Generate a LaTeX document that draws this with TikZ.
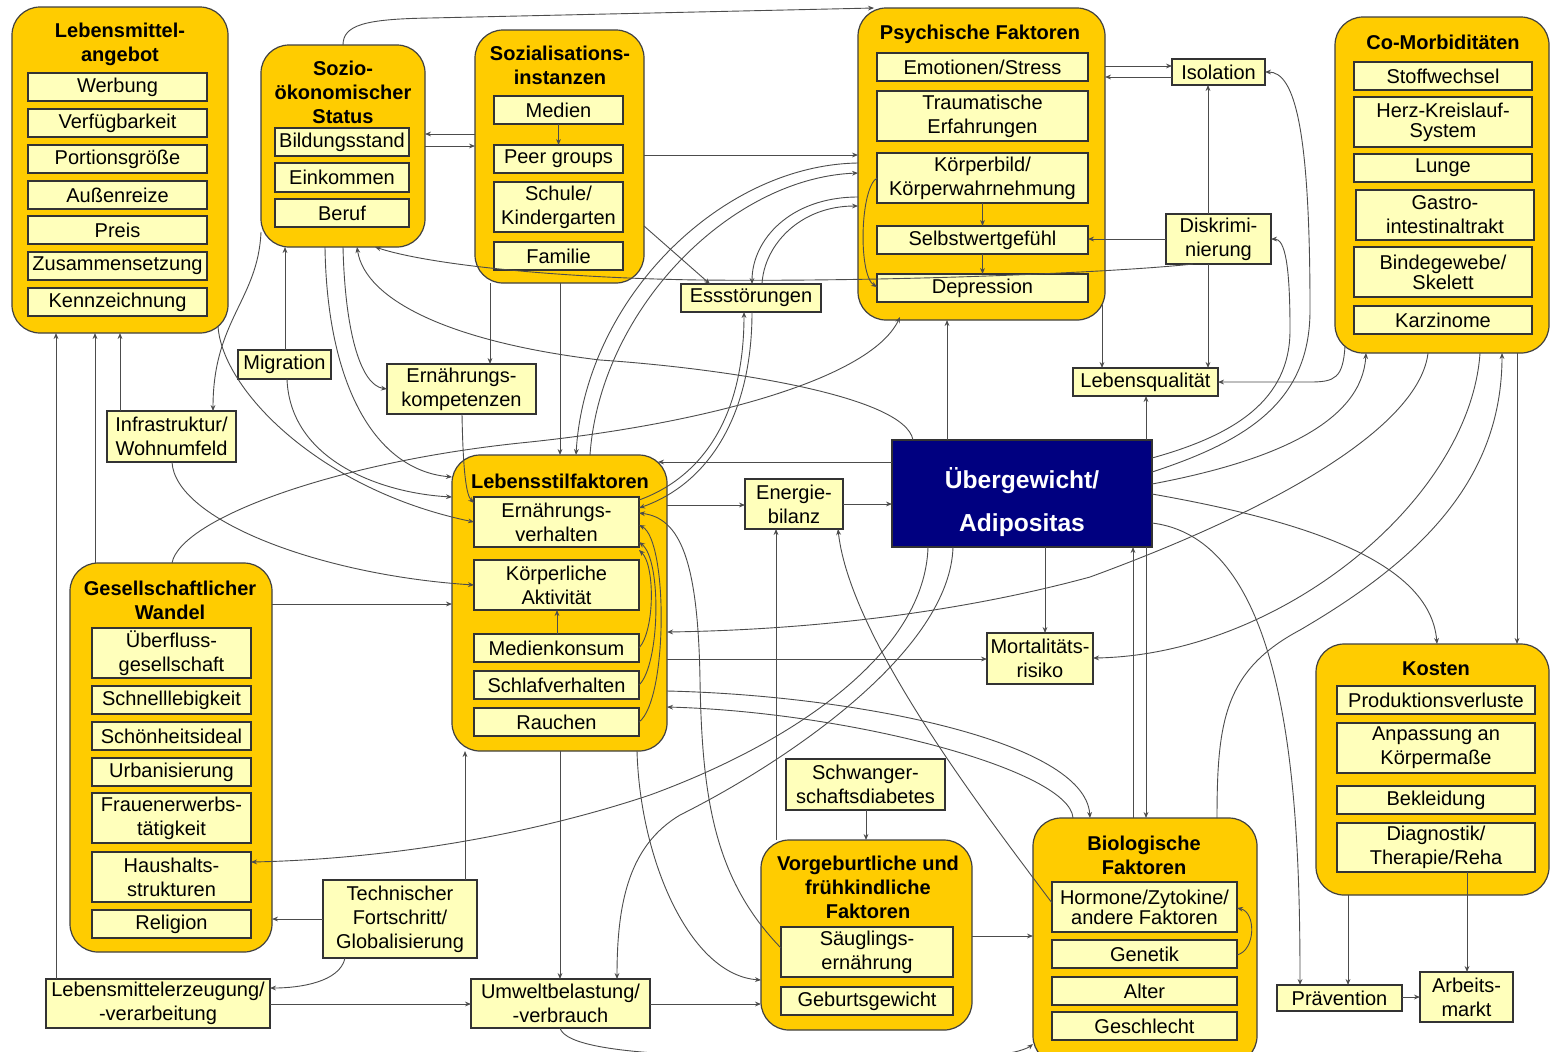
\documentclass[tikz,border=0pt]{standalone}
\usepackage{fontspec}
\setmainfont{Liberation Sans}
\usetikzlibrary{arrows.meta,calc}
\definecolor{grpc}{HTML}{FFCC00}
\definecolor{itmc}{HTML}{FFFFBB}
\definecolor{navyc}{HTML}{000080}
\newcommand\fnorm{\fontsize{10}{12}\selectfont}
\newcommand\mybox[7]{\node[#2,minimum width={(#5-#3)*0.5pt},minimum height={(#6-#4)*0.5pt}] (#1) at ({(#3+#5)/2},{(#4+#6)/2}) {#7};}
\tikzset{
 grp/.style={draw=black!75,fill=grpc,line width=0.6pt,rounded corners=14pt,inner sep=0pt,outer sep=0pt},
 itm/.style={draw=black!80,fill=itmc,line width=0.8pt,inner sep=0pt,outer sep=0pt,align=center,font=\fnorm},
 ttl/.style={align=center,font=\fnorm\bfseries,inner sep=0pt},
 big/.style={draw=black!80,fill=navyc,line width=0.6pt,inner sep=0pt,outer sep=0pt},
 bigtxt/.style={align=center,text=white,inner sep=0pt,font=\fontsize{12.3}{21.5}\selectfont\bfseries},
 con/.style={draw=black!70,line width=0.45pt},
 arr/.style={con,-{Stealth[length=3pt,width=2.4pt]}}
}
\begin{document}
\begin{tikzpicture}[x=0.5pt,y=-0.5pt]
\fill[white] (0,0) rectangle (1550,1051);
\useasboundingbox (0,0) rectangle (1550,1051);
% group boxes
\mybox{lma}{grp}{12}{7}{228}{333}{}
\mybox{ses}{grp}{261}{45}{425}{247}{}
\mybox{soz}{grp}{475}{30}{644}{283}{}
\mybox{psy}{grp}{858}{8}{1105}{320}{}
\mybox{com}{grp}{1335}{17}{1549}{353}{}
\mybox{lsf}{grp}{452}{455}{667}{751}{}
\mybox{gw}{grp}{70}{563}{272}{952}{}
\mybox{kost}{grp}{1316}{644}{1549}{895}{}
\mybox{vor}{grp}{761}{840}{972}{1030}{}
\mybox{bio}{grp}{1033}{818}{1257}{1064}{}
% titles
\node[ttl] (tlma) at (120,44) {Lebensmittel-\\angebot};
\node[ttl] (tses) at (343,92) {Sozio-\\ökonomischer\\Status};
\node[ttl] (tsoz) at (560,65) {Sozialisations-\\instanzen};
\node[ttl] (tpsy) at (980,34) {Psychische Faktoren};
\node[ttl] (tcom) at (1443,42) {Co-Morbiditäten};
\node[ttl] (tlsf) at (560,481) {Lebensstilfaktoren};
\node[ttl] (tgw) at (170,600) {Gesellschaftlicher\\Wandel};
\node[ttl] (tkost) at (1436,669) {Kosten};
\node[ttl] (tvor) at (868,887) {Vorgeburtliche und\\frühkindliche\\Faktoren};
\node[ttl] (tbio) at (1144,855) {Biologische\\Faktoren};
% items
\mybox{werb}{itm}{28}{73}{207}{101}{Werbung}
\mybox{verf}{itm}{28}{109}{207}{137}{Verfügbarkeit}
\mybox{port}{itm}{28}{145}{207}{173}{Portionsgröße}
\mybox{auss}{itm}{28}{181}{207}{209}{Außenreize}
\mybox{preis}{itm}{28}{216}{207}{244}{Preis}
\mybox{zus}{itm}{28}{252}{207}{280}{Zusammensetzung}
\mybox{kenn}{itm}{28}{288}{207}{316}{Kennzeichnung}
\mybox{bild}{itm}{275}{128}{409}{156}{Bildungsstand}
\mybox{eink}{itm}{275}{163}{409}{192}{Einkommen}
\mybox{beruf}{itm}{275}{199}{409}{227}{Beruf}
\mybox{medien}{itm}{494}{96}{623}{124}{Medien}
\mybox{peer}{itm}{494}{145}{623}{173}{Peer groups}
\mybox{schule}{itm}{494}{182}{623}{232}{Schule/\\Kindergarten}
\mybox{familie}{itm}{494}{242}{623}{270}{Familie}
\mybox{emo}{itm}{877}{53}{1088}{81}{Emotionen/Stress}
\mybox{trauma}{itm}{877}{91}{1088}{141}{Traumatische\\Erfahrungen}
\mybox{koerper}{itm}{877}{153}{1088}{203}{Körperbild/\\Körperwahrnehmung}
\mybox{selbst}{itm}{877}{226}{1088}{254}{Selbstwertgefühl}
\mybox{depr}{itm}{877}{274}{1088}{302}{Depression}
\mybox{stoff}{itm}{1354}{62}{1532}{90}{Stoffwechsel}
\mybox{herz}{itm}{1354}{97}{1532}{147}{Herz-Kreislauf-\\[-2pt]System}
\mybox{lunge}{itm}{1354}{154}{1532}{182}{Lunge}
\mybox{gastro}{itm}{1356}{190}{1534}{240}{Gastro-\\intestinaltrakt}
\mybox{binde}{itm}{1354}{247}{1532}{297}{Bindegewebe/\\[-2pt]Skelett}
\mybox{karz}{itm}{1354}{306}{1532}{334}{Karzinome}
\mybox{ernv}{itm}{474}{497}{639}{547}{Ernährungs-\\verhalten}
\mybox{koerpa}{itm}{474}{560}{639}{610}{Körperliche\\Aktivität}
\mybox{medk}{itm}{474}{634}{639}{662}{Medienkonsum}
\mybox{schlaf}{itm}{474}{671}{639}{699}{Schlafverhalten}
\mybox{rauch}{itm}{474}{708}{639}{736}{Rauchen}
\mybox{ueberfl}{itm}{92}{628}{251}{678}{Überfluss-\\gesellschaft}
\mybox{schnell}{itm}{92}{686}{251}{714}{Schnelllebigkeit}
\mybox{schoen}{itm}{92}{722}{251}{750}{Schönheitsideal}
\mybox{urban}{itm}{92}{758}{251}{786}{Urbanisierung}
\mybox{frauen}{itm}{92}{793}{251}{843}{Frauenerwerbs-\\tätigkeit}
\mybox{haus}{itm}{92}{852}{251}{902}{Haushalts-\\strukturen}
\mybox{relig}{itm}{92}{910}{251}{938}{Religion}
\mybox{prod}{itm}{1337}{686}{1535}{714}{Produktionsverluste}
\mybox{anp}{itm}{1337}{723}{1535}{773}{Anpassung an\\Körpermaße}
\mybox{bekl}{itm}{1337}{786}{1535}{814}{Bekleidung}
\mybox{diag}{itm}{1337}{823}{1535}{872}{Diagnostik/\\Therapie/Reha}
\mybox{saeug}{itm}{781}{927}{953}{977}{Säuglings-\\ernährung}
\mybox{geburt}{itm}{781}{987}{953}{1015}{Geburtsgewicht}
\mybox{horm}{itm}{1052}{882}{1237}{932}{Hormone/Zytokine/\\[-2pt]andere Faktoren}
\mybox{genetik}{itm}{1052}{940}{1237}{968}{Genetik}
\mybox{alter}{itm}{1052}{977}{1237}{1005}{Alter}
\mybox{geschl}{itm}{1052}{1012}{1237}{1040}{Geschlecht}
% standalone boxes
\mybox{iso}{itm}{1172}{59}{1265}{85}{Isolation}
\mybox{diskr}{itm}{1166}{214}{1271}{264}{Diskrimi-\\nierung}
\mybox{lq}{itm}{1073}{368}{1218}{396}{Lebensqualität}
\mybox{ess}{itm}{681}{284}{821}{312}{Essstörungen}
\mybox{migr}{itm}{238}{350}{331}{379}{Migration}
\mybox{ekomp}{itm}{387}{364}{536}{414}{Ernährungs-\\kompetenzen}
\mybox{infra}{itm}{107}{411}{236}{462}{Infrastruktur/\\Wohnumfeld}
\mybox{energ}{itm}{745}{479}{843}{529}{Energie-\\bilanz}
\mybox{ueb}{big}{892}{440}{1152}{547}{}
\node[bigtxt] (uebtxt) at (1022,502) {Übergewicht/\\Adipositas};
\mybox{mort}{itm}{987}{633}{1093}{684}{Mortalitäts-\\risiko}
\mybox{schwdia}{itm}{786}{759}{945}{810}{Schwanger-\\schaftsdiabetes}
\mybox{tech}{itm}{323}{880}{477}{958}{Technischer\\Fortschritt/\\Globalisierung}
\mybox{lmerz}{itm}{46}{979}{270}{1028}{Lebensmittelerzeugung/\\-verarbeitung}
\mybox{umwelt}{itm}{471}{979}{650}{1028}{Umweltbelastung/\\-verbrauch}
\mybox{praev}{itm}{1277}{985}{1402}{1011}{Prävention}
\mybox{arbeit}{itm}{1420}{972}{1513}{1022}{Arbeits-\\markt}
% connectors
\draw[arr] (ses.north -| 343,0) .. controls (343,25) and (365,19) .. (430,18) -- (psy.north -| 874,0);
\draw[arr] (soz.west |- 0,134) -- (ses.east |- 0,134);
\draw[arr] (ses.east |- 0,146) -- (soz.west |- 0,146);
\draw[arr] (medien.south) -- (peer.north);
\draw[arr] (soz.east |- 0,155) -- (psy.west |- 0,155);
\draw[arr] (psy.west |- 0,163) .. controls (720,165) and (585,300) .. (lsf.north -| 576,0);
\draw[arr] (lsf.north -| 590,0) .. controls (600,310) and (730,178) .. (psy.west |- 0,173);
\draw[arr] (psy.west |- 0,197) .. controls (790,197) and (752,240) .. (ess.north -| 752,0);
\draw[arr] (ess.north -| 762,0) .. controls (764,245) and (800,206) .. (psy.west |- 0,206);
\draw[arr] (soz.east |- 0,226) -- (ess.north -| 710,0);
\draw[arr] (soz.south -| 490,0) -- (ekomp.north -| 490,0);
\draw[arr] (soz.south -| 560,0) -- (lsf.north -| 560,0);
\draw[arr] (diskr.south -| 1193,0) .. controls (1120,272) and (900,282) .. (700,280) .. controls (560,278) and (430,265) .. (ses.south -| 375,0);
\draw[arr] (koerper.south) -- (selbst.north);
\draw[arr] (selbst.south) -- (depr.north);
\draw[arr] (koerper.west |- 0,178) .. controls (860,188) and (858,275) .. (depr.west |- 0,287);
\draw[arr] (psy.east |- 0,66) -- (iso.west |- 0,66);
\draw[arr] (iso.west |- 0,77) -- (psy.east |- 0,77);
\draw[arr] (diskr.west |- 0,239) -- (selbst.east |- 0,239);
\draw[arr] (diskr.north -| 1208,0) -- (iso.south -| 1208,0);
\draw[arr] (diskr.south -| 1208,0) -- (lq.north -| 1208,0);
\draw[arr] (psy.south -| 1102,0) ++(0,-15) -- (lq.north -| 1102,0);
\draw[arr] (com.south -| 1345,0) ++(0,-7) .. controls (1343,378) and (1335,382) .. (1310,382) -- (lq.east |- 0,382);
\draw[arr] (ueb.north -| 1146,0) -- (lq.south -| 1146,0);
\draw[arr] (ueb.north -| 947,0) -- (psy.south -| 947,0);
\draw[arr] (gw.north -| 172,0) .. controls (180,520) and (330,463) .. (520,443) .. controls (700,425) and (870,380) .. ($(psy.south -| 900,0)+(0,-3)$);
\draw[arr] (ueb.north -| 913,0) .. controls (905,395) and (720,368) .. (600,360) .. controls (450,342) and (365,300) .. (ses.south -| 357,0);
\draw[arr] (ses.south -| 343,0) .. controls (345,330) and (360,385) .. (ekomp.west |- 0,389);
\draw[arr] (ses.south -| 325,0) .. controls (327,385) and (375,470) .. (lsf.west |- 0,477);
\draw[arr] (migr.south -| 287,0) .. controls (290,460) and (380,493) .. (lsf.west |- 0,497);
\draw[arr] (migr.north -| 285,0) -- (ses.south -| 285,0);
\draw[arr] (ses.west |- 0,232) .. controls (258,300) and (213,320) .. (infra.north -| 213,0);
\draw[arr] (lma.south -| 218,0) ++(0,-7) .. controls (222,390) and (320,490) .. (ernv.west |- 0,522);
\draw[arr] (infra.south -| 172,0) .. controls (175,520) and (320,575) .. (koerpa.west |- 0,585);
\draw[arr] (infra.north -| 120,0) -- (lma.south -| 120,0);
\draw[arr] (gw.north -| 95,0) -- (lma.south -| 95,0);
\draw[arr] (lmerz.north -| 56,0) -- (lma.south -| 56,0);
\draw[arr] (gw.east |- 0,604) -- (lsf.west |- 0,604);
\draw[arr] (ekomp.south -| 462,0) .. controls (463,470) and (466,495) .. (ernv.west |- 0,503);
\draw[arr] (lsf.east |- 0,505) -- (energ.west |- 0,505);
\draw[arr] (energ.east |- 0,504) -- (ueb.west |- 0,504);
\draw[arr] (ueb.west |- 0,462) -- ($(lsf.east |- 0,462)+(-9,0)$);
\draw[arr] (medk.north -| 557,0) -- (koerpa.south -| 557,0);
\draw[arr] (medk.east |- 0,648) .. controls (655,630) and (655,565) .. (ernv.east |- 0,550);
\draw[arr] (schlaf.east |- 0,685) .. controls (660,665) and (662,560) .. (ernv.east |- 0,542);
\draw[arr] (rauch.east |- 0,722) .. controls (668,700) and (668,540) .. (ernv.east |- 0,525);
\draw[arr] (ess.south -| 752,0) .. controls (752,420) and (705,485) .. (ernv.east |- 0,508);
\draw[arr] (ernv.east |- 0,500) .. controls (700,478) and (744,420) .. (ess.south -| 744,0);
\draw[arr] (lsf.east |- 0,659) -- (mort.west |- 0,659);
\draw[arr] (com.south -| 1428,0) .. controls (1420,420) and (1300,500) .. (1090,577) .. controls (950,615) and (800,630) .. (lsf.east |- 0,632);
\draw[arr] (com.south -| 1480,0) .. controls (1470,500) and (1280,655) .. (mort.east |- 0,658);
\draw[arr] (bio.north -| 1217,0) .. controls (1217,720) and (1225,670) .. (1300,630) .. controls (1420,560) and (1502,480) .. (com.south -| 1502,0);
\draw[arr] (ueb.south -| 1045,0) -- (mort.north -| 1045,0);
\draw[arr] (bio.north -| 1133,0) -- (ueb.south -| 1133,0);
\draw[arr] (ueb.south -| 1146,0) -- (bio.north -| 1146,0);
\draw[arr] (ueb.east |- 0,472) .. controls (1250,440) and (1310,400) .. (1310,310) .. controls (1310,130) and (1295,72) .. (iso.east |- 0,72);
\draw[arr] (ueb.east |- 0,458) .. controls (1235,435) and (1290,400) .. (1290,330) .. controls (1290,265) and (1285,239) .. (diskr.east |- 0,239);
\draw[arr] (ueb.east |- 0,484) .. controls (1280,460) and (1362,420) .. (com.south -| 1366,0);
\draw[arr] (ueb.east |- 0,494) .. controls (1300,520) and (1430,560) .. (kost.north -| 1437,0);
\draw[arr] (ueb.east |- 0,523) .. controls (1290,540) and (1300,800) .. (praev.north -| 1300,0);
\draw[arr] (com.south -| 1517,0) -- (kost.north -| 1517,0);
\draw[arr] (ueb.south -| 928,0) .. controls (925,650) and (800,740) .. (650,795) .. controls (500,845) and (350,860) .. (haus.east |- 0,862);
\draw[arr] (ueb.south -| 953,0) .. controls (950,650) and (790,760) .. (680,815) .. controls (630,845) and (617,900) .. (umwelt.north -| 617,0);
\draw[arr] (vor.north -| 776,0) -- (energ.south -| 776,0);
\draw[arr] (horm.west |- 0,903) .. controls (990,820) and (850,640) .. (energ.south -| 838,0);
\draw[arr] (lsf.east |- 0,691) .. controls (850,695) and (1085,740) .. (bio.north -| 1090,0);
\draw[arr] (bio.north -| 1073,0) .. controls (1070,770) and (850,712) .. (lsf.east |- 0,707);
\draw[arr] (saeug.west |- 0,948) .. controls (715,880) and (702,800) .. (700,680) .. controls (698,560) and (680,518) .. (ernv.east |- 0,513);
\draw[arr] (lsf.south -| 637,0) .. controls (640,860) and (690,975) .. (vor.west |- 0,980);
\draw[arr] (lsf.south -| 560,0) -- (umwelt.north -| 560,0);
\draw[arr] (tech.north -| 465,0) -- (lsf.south -| 465,0);
\draw[arr] (tech.west |- 0,919) -- (gw.east |- 0,919);
\draw[arr] (tech.south -| 345,0) .. controls (340,982) and (300,988) .. (lmerz.east |- 0,988);
\draw[arr] (lmerz.east |- 0,1004) -- (umwelt.west |- 0,1004);
\draw[arr] (umwelt.east |- 0,1004) -- (vor.west |- 0,1004);
\draw[arr] (umwelt.south -| 560,0) .. controls (565,1045) and (620,1052) .. (690,1055) -- (990,1055) .. controls (1015,1054) and (1028,1048) .. (bio.west |- 0,1044);
\draw[arr] (vor.east |- 0,936) -- (bio.west |- 0,936);
\draw[arr] (schwdia.south -| 866,0) -- (vor.north -| 866,0);
\draw[arr] (genetik.east |- 0,955) .. controls (1256,950) and (1256,912) .. (horm.east |- 0,908);
\draw[arr] (kost.south -| 1348,0) -- (praev.north -| 1348,0);
\draw[arr] (diag.south -| 1467,0) -- (arbeit.north -| 1467,0);
\draw[arr] (praev.east |- 0,997) -- (arbeit.west |- 0,997);
\end{tikzpicture}
\end{document}
